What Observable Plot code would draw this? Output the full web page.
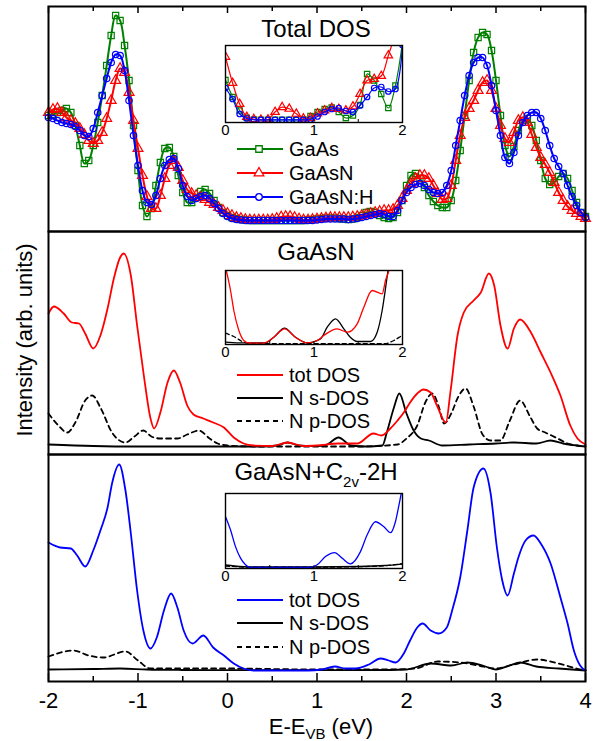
<!DOCTYPE html>
<html><head><meta charset="utf-8">
<script src="https://cdn.jsdelivr.net/npm/d3@7"></script>
<script src="https://cdn.jsdelivr.net/npm/@observablehq/plot@0.6"></script>
<style>
body{margin:0;background:#fff;}
#fig{position:relative;width:593px;height:741px;background:#fff;overflow:hidden;}
#fig svg{position:absolute;left:0;top:0;}
</style></head><body><div id="fig"></div>
<script>
// ---------- DATA ----------
const X_MAJOR = [-2, -1, 0, 1, 2, 3, 4];
const X_MINOR = [-1.5, -0.5, 0.5, 1.5, 2.5, 3.5];
const INSET_TICKS = [0, 1, 2];
const INSET_MINOR = [0.5, 1, 1.5];

// Total DOS panel: sampled every 0.05 eV from -2 to 4
const TOP_E0 = -2, TOP_STEP = 0.05;
const gaas = [
 105,106,108,110,112,108,95,75,57,60,
 75,98,125,155,185,205,200,175,140,95,
 50,15,4,12,35,58,72,73,64,45,
 28,18,18,23,29,31,27,20,13,8,
 5,3,2,1,0.5,0,0,0,0,0,
 0,0,0,0,0,0,0,0,0.5,1,
 1.5,2,2.5,2.5,2.5,2,1.5,1,1.5,3,
 5,8,9,8,5,3,2,3,8,20,
 35,45,47,42,33,25,19,15,13,13,
 20,40,70,105,140,168,183,188,186,170,
 140,105,75,64,74,90,100,102,95,80,
 60,42,36,38,44,47,42,30,18,8,
 4];
const gaasn = [
 108,111,112,108,103,100,97,92,86,80,
 77,80,88,102,120,140,152,148,128,100,
 72,45,24,12,12,25,42,55,60,53,
 40,31,27,25,23,21,18,16,13,10,
 7,5,3,2,1,0.5,0.5,0.5,0.5,0.5,
 1,2,3.5,4,4,3,1.5,0.5,0.5,1,
 1.5,2,2.5,3,3,3,3,3,3.5,4,
 5,6,7,8,9,10,10,11,15,22,
 30,37,42,45,45,42,35,27,21,22,
 35,60,85,103,112,120,130,138,140,130,
 112,95,82,78,88,100,103,98,86,73,
 63,56,48,38,28,20,14,10,7,4,
 2];
const gaasnh = [
 103,102,100,98,97,96,94,90,85,84,
 92,108,125,142,158,166,165,150,120,85,
 55,30,18,16,25,42,55,61,62,52,
 35,24,20,22,24,25,22,17,12,7,
 4,2,1,0.5,0,0,0,0,0,0,
 0,0,0,0,0,0,0,0,0,0,
 0.5,1,1.5,1.5,1.5,1.5,1.5,1,1.5,2,
 3,4,5,6,7,6,4,4,10,20,
 28,33,36,37,35,31,28,27,28,35,
 50,75,100,125,145,158,163,163,155,135,
 110,85,63,57,68,85,98,105,108,108,
 102,90,75,62,54,47,35,24,15,8,
 3];

// Total DOS inset: sampled every 0.08 eV from 0 to 2
const INSET_E0 = 0, INSET_STEP = 0.08;
const inGaas  = [40,23,9.5,2.2,0.5,0.2,0.2,0.2,0.2,0.2,0.2,0.5,4, 8,11,12.5,8,2,4.5,15,46,39.5,26,12,34.5,78];
const inGaasn = [63,37,16,3,0.8,0.2,0.5,8,12.8,11.2,6.2,1.5,2, 6.5,9.5,12,11,9.5,13.5,26,39.5,41,44,64.5,85,100];
const inGaasnh= [32,21,6,1.5,0.2,0.2,0.2,0.2,0.2,0.2,0.2,0.2,0.5, 3.5,8,11,12,9,8,14.5,23,32,33,28.5,31,75];

// GaAsN panel  [E, intensity]
const p2Tot = [[-2,133],[-1.94,140],[-1.83,133],[-1.74,124],[-1.66,123],[-1.59,113],[-1.5,98],[-1.42,111],[-1.34,138],[-1.27,168],[-1.2,189],[-1.16,193],[-1.08,171],[-1.01,121],[-0.935,71],[-0.86,28],[-0.82,18],[-0.75,34],[-0.67,64],[-0.6,76],[-0.53,64],[-0.45,41],[-0.38,32],[-0.27,28],[-0.16,24],[-0.04,19],[0.07,9],[0.18,3],[0.29,1],[0.5,0.5],[0.67,4],[0.85,0.5],[1.0,1],[1.24,3],[1.45,3],[1.63,13],[1.72,11],[1.82,18],[1.9,26],[1.97,34],[2.04,44],[2.12,53],[2.19,57],[2.27,54],[2.34,41],[2.44,24],[2.49,54],[2.57,111],[2.64,134],[2.75,146],[2.83,154],[2.92,173],[2.98,161],[3.05,121],[3.13,98],[3.2,118],[3.27,127],[3.39,114],[3.5,94],[3.61,74],[3.72,51],[3.83,21],[3.91,8],[4,2]];
const p2S = [[-2,2],[-1.5,0.5],[-1,0],[0.4,0],[0.55,1],[0.67,4],[0.8,1],[0.95,0.3],[1.1,1.5],[1.24,9],[1.38,1],[1.55,0],[1.73,1],[1.78,14],[1.86,39],[1.92,53],[2.0,33],[2.08,16],[2.16,8],[2.25,6],[2.4,1],[2.7,2],[3.0,3],[3.2,4],[3.45,3],[3.61,6],[3.75,3],[3.9,1],[4,0]];
const p2P = [[-2,33],[-1.89,21],[-1.79,14],[-1.7,24],[-1.59,46],[-1.51,51],[-1.42,39],[-1.29,14],[-1.14,4],[-1.04,10],[-0.94,16],[-0.85,10],[-0.75,8],[-0.56,8],[-0.45,12],[-0.32,16],[-0.2,8],[-0.11,3],[0,1],[0.3,0],[1.5,0],[1.9,2],[2.0,8],[2.12,21],[2.21,44],[2.29,53],[2.36,40],[2.42,23],[2.5,33],[2.58,50],[2.66,58],[2.75,40],[2.85,12],[2.94,6],[3.05,6],[3.15,25],[3.27,46],[3.38,30],[3.46,18],[3.55,14],[3.69,8],[3.8,3],[3.9,1],[4,0]];
// GaAsN inset
const in2Tot = [[0,76],[0.057,52.7],[0.094,32.7],[0.151,12.7],[0.207,2.7],[0.264,0.2],[0.43,0],[0.546,6],[0.667,14.4],[0.79,6],[0.92,0.3],[1.036,2.7],[1.11,7.7],[1.262,14.4],[1.375,11],[1.488,19.4],[1.563,36],[1.657,52.7],[1.77,49.4],[1.808,62.7],[1.846,72.7],[1.9,100]];
const in2S = [[0,1],[0.15,0.3],[0.45,0.3],[0.546,6],[0.667,15],[0.79,6],[0.923,0.3],[1.073,4.3],[1.149,16],[1.243,24.4],[1.337,14.4],[1.41,6],[1.488,1.7],[1.638,1.7],[1.714,11],[1.77,32.7],[1.81,56],[1.836,72.7],[1.88,100]];
const in2P = [[0,10],[0.094,6.7],[0.207,1],[0.3,-0.5],[1.8,-0.5],[1.902,2.7],[1.977,6.7],[2,8]];

// GaAsN+C2v-2H panel
const p3Tot = [[-2,128],[-1.87,123],[-1.75,122],[-1.68,115],[-1.59,104],[-1.5,120],[-1.42,140],[-1.34,163],[-1.29,187],[-1.21,206],[-1.14,180],[-1.08,137],[-1.01,80],[-0.94,40],[-0.86,22],[-0.79,33],[-0.71,60],[-0.63,77],[-0.56,63],[-0.49,40],[-0.39,27],[-0.27,35],[-0.16,23],[-0.04,15],[0.07,7],[0.18,2],[0.29,0],[0.9,0],[1.05,1],[1.2,4],[1.32,2],[1.43,2],[1.58,6],[1.71,12],[1.8,10],[1.88,8],[1.97,17],[2.04,30],[2.12,43],[2.18,47],[2.27,40],[2.36,37],[2.45,43],[2.51,60],[2.6,93],[2.68,140],[2.75,183],[2.86,202],[2.94,177],[3.01,123],[3.07,90],[3.13,75],[3.2,97],[3.25,113],[3.33,130],[3.42,135],[3.5,127],[3.61,107],[3.72,73],[3.8,47],[3.87,20],[3.94,5],[4,0]];
const p3S = [[-2,1],[-1.5,1.5],[-1.2,2],[-0.9,1],[-0.5,0.5],[0,0.3],[1,0.3],[1.8,0.5],[2.0,1],[2.27,7],[2.5,5],[2.68,8],[2.85,5],[3.0,1],[3.15,5],[3.27,8],[3.45,4],[3.7,2],[4,0]];
const p3P = [[-2,14],[-1.72,20],[-1.55,15],[-1.39,13],[-1.14,19],[-1.0,10],[-0.86,2],[-0.5,2],[0,2],[1,1],[1.8,1],[2.1,2],[2.35,9],[2.6,8],[2.8,5],[3.0,2],[3.2,6],[3.46,11],[3.7,7],[3.9,2],[4,0]];
// inset
const in3Tot = [[0,51],[0.057,37.7],[0.113,21],[0.17,9.4],[0.226,2.7],[0.283,0],[0.96,0],[1.036,2.7],[1.13,11],[1.232,15],[1.318,9.4],[1.412,3.7],[1.525,16],[1.6,32.7],[1.695,46],[1.79,41],[1.865,35],[1.92,46],[1.96,62.7],[1.986,74.4],[2,80]];
const in3S = [[0,2.5],[0.1,1.5],[0.3,0.5],[1.0,0.5],[1.5,1],[1.8,2],[2,3.5]];
const in3P = [[0,1.5],[0.3,0.3],[1.0,0.3],[1.5,0.8],[1.8,1.8],[2,4]];

const TITLES = ["Total DOS", "GaAsN"];
const LEG1 = ["GaAs", "GaAsN", "GaAsN:H"];
const LEG2 = ["tot DOS", "N s-DOS", "N p-DOS"];

// ---------- STYLE ----------
const FONT = "Liberation Sans, Arial, Helvetica, sans-serif";
const GREEN = "#008000", RED = "#ff0000", BLUE = "#0000ff";
const W = 593, H = 741;
const fig = document.getElementById("fig");
const sty = {background: "transparent", overflow: "visible", fontFamily: FONT, color: "black"};

const grid = (vals, e0, step) => vals.map((v, i) => ({E: e0 + i * step, v}));
const gTop = [grid(gaas, TOP_E0, TOP_STEP), grid(gaasn, TOP_E0, TOP_STEP), grid(gaasnh, TOP_E0, TOP_STEP)];
const gIn = [grid(inGaas, INSET_E0, INSET_STEP), grid(inGaasn, INSET_E0, INSET_STEP), grid(inGaasnh, INSET_E0, INSET_STEP)];
const COLORS = [GREEN, RED, BLUE];
const SYMS = ["square", "triangle", "circle"];
const RS = [1.0, 1.05, 0.92];

function seriesMarks(sets, clip, r, lw) {
  const marks = [];
  sets.forEach((d, k) => {
    marks.push(Plot.line(d, {x: "E", y: "v", stroke: COLORS[k], strokeWidth: lw, curve: "catmull-rom", clip}));
    marks.push(Plot.dot(d, {x: "E", y: "v", symbol: SYMS[k], r: r * RS[k], stroke: COLORS[k], fill: "none", strokeWidth: 1.2, clip}));
  });
  return marks;
}
function kLine(d, color, opts = {}) {
  return Plot.line(d, {x: d => d[0], y: d => d[1], stroke: color, strokeWidth: 1.8, curve: "monotone-x", ...opts});
}

function panel({top, bottom, ydom, marks}) {
  return Plot.plot({
    width: W, height: H, marginLeft: 48, marginRight: 8, marginTop: top, marginBottom: H - bottom,
    x: {domain: [-2, 4], axis: null}, y: {domain: ydom, axis: null},
    style: sty, marks
  });
}
function inset({top, bottom, ydom, marks}) {
  const ih = bottom - top;
  return Plot.plot({
    width: W, height: H, marginLeft: 225, marginRight: W - 402, marginTop: top, marginBottom: H - bottom,
    x: {domain: [0, 2], axis: null}, y: {domain: ydom, axis: null},
    style: sty,
    marks: [
      ...marks,
      Plot.tickX(INSET_MINOR, {x: d => d, insetTop: ih - 3, stroke: "black", strokeWidth: 1}),
      Plot.frame({stroke: "black", strokeWidth: 1.4}),
      Plot.axisX(INSET_TICKS, {tickSize: 0, tickPadding: 2, fontSize: 15, tickFormat: d => String(d), label: null})
    ]
  });
}

// Panel 1
const h1 = 231 - 6;
fig.append(panel({top: 6, bottom: 231, ydom: [-11, 214], marks: [
  ...seriesMarks(gTop, false, 3.5, 2),
  Plot.tickX(X_MAJOR, {x: d => d, insetBottom: h1 - 7, stroke: "black", strokeWidth: 1.5}),
  Plot.tickX(X_MINOR, {x: d => d, insetBottom: h1 - 5, stroke: "black", strokeWidth: 1.5}),
  Plot.frame({stroke: "black", strokeWidth: 2})
]}));
fig.append(inset({top: 45, bottom: 122, ydom: [-2.5, 74.5], marks: seriesMarks(gIn, true, 3.0, 1.2)}));

// Panel 2
fig.append(panel({top: 231, bottom: 454, ydom: [-8, 215], marks: [
  kLine(p2P, "black", {strokeDasharray: "5,4"}),
  kLine(p2S, "black"),
  kLine(p2Tot, RED),
  Plot.frame({stroke: "black", strokeWidth: 2})
]}));
fig.append(inset({top: 270, bottom: 344, ydom: [-1.3, 72.7], marks: [
  kLine(in2P, "black", {strokeDasharray: "4,3", strokeWidth: 1.3, clip: true}),
  kLine(in2S, "black", {strokeWidth: 1.3, clip: true}),
  kLine(in2Tot, RED, {strokeWidth: 1.3, clip: true})
]}));

// Panel 3
const h3 = 681 - 454;
fig.append(panel({top: 454, bottom: 681, ydom: [-11, 216], marks: [
  kLine(p3P, "black", {strokeDasharray: "5,4"}),
  kLine(p3S, "black"),
  kLine(p3Tot, BLUE),
  Plot.tickX(X_MAJOR, {x: d => d, insetTop: h3 - 8, stroke: "black", strokeWidth: 1.5}),
  Plot.tickX(X_MINOR, {x: d => d, insetTop: h3 - 5, stroke: "black", strokeWidth: 1.5}),
  Plot.frame({stroke: "black", strokeWidth: 2}),
  Plot.axisX(X_MAJOR, {tickSize: 0, tickPadding: 11, fontSize: 22, tickFormat: d => String(d), label: null})
]}));
fig.append(inset({top: 493, bottom: 568, ydom: [-1, 74.4], marks: [
  kLine(in3P, "black", {strokeDasharray: "4,3", strokeWidth: 1.3, clip: true}),
  kLine(in3S, "black", {strokeWidth: 1.3, clip: true}),
  kLine(in3Tot, BLUE, {strokeWidth: 1.3, clip: true})
]}));

// ---------- overlay text & legends ----------
const ov = d3.create("svg").attr("width", W).attr("height", H).attr("font-family", FONT)
  .style("overflow", "visible");
ov.append("text").attr("x", 316).attr("y", 37).attr("text-anchor", "middle").attr("font-size", 24).text(TITLES[0]);
ov.append("text").attr("x", 316).attr("y", 260).attr("text-anchor", "middle").attr("font-size", 24).text(TITLES[1]);
const t3 = ov.append("text").attr("x", 316).attr("y", 480).attr("text-anchor", "middle").attr("font-size", 24);
t3.append("tspan").text("GaAsN+C");
t3.append("tspan").attr("font-size", 15).attr("dy", 7).text("2v");
t3.append("tspan").attr("dy", -7).text("-2H");

ov.append("text").attr("transform", "translate(32,340) rotate(-90)").attr("text-anchor", "middle")
  .attr("font-size", 22).text("Intensity (arb. units)");
const xl = ov.append("text").attr("x", 321).attr("y", 734).attr("text-anchor", "middle").attr("font-size", 22);
xl.append("tspan").text("E-E");
xl.append("tspan").attr("font-size", 15).attr("dy", 5).text("VB");
xl.append("tspan").attr("dy", -5).text(" (eV)");

const symGen = {square: d3.symbol(d3.symbolSquare, 42), triangle: d3.symbol(d3.symbolTriangle, 40), circle: d3.symbol(d3.symbolCircle, 34)};
function legendRow(y, color, label, sym, dash) {
  const g = ov.append("g");
  g.append("line").attr("x1", 237).attr("x2", 283).attr("y1", y).attr("y2", y)
    .attr("stroke", color).attr("stroke-width", 2).attr("stroke-dasharray", dash ? "5,4" : null);
  if (sym) g.append("path").attr("d", symGen[sym]()).attr("transform", `translate(259,${y})`)
    .attr("fill", "white").attr("stroke", color).attr("stroke-width", 1.3);
  g.append("text").attr("x", 289).attr("y", y + 7).attr("font-size", 20).text(label);
}
[149, 173, 197].forEach((y, k) => legendRow(y, COLORS[k], LEG1[k], SYMS[k], false));
legendRow(375, RED, LEG2[0], null, false);
legendRow(398, "black", LEG2[1], null, false);
legendRow(421, "black", LEG2[2], null, true);
legendRow(600, BLUE, LEG2[0], null, false);
legendRow(623, "black", LEG2[1], null, false);
legendRow(647, "black", LEG2[2], null, true);
fig.append(ov.node());
</script></body></html>
